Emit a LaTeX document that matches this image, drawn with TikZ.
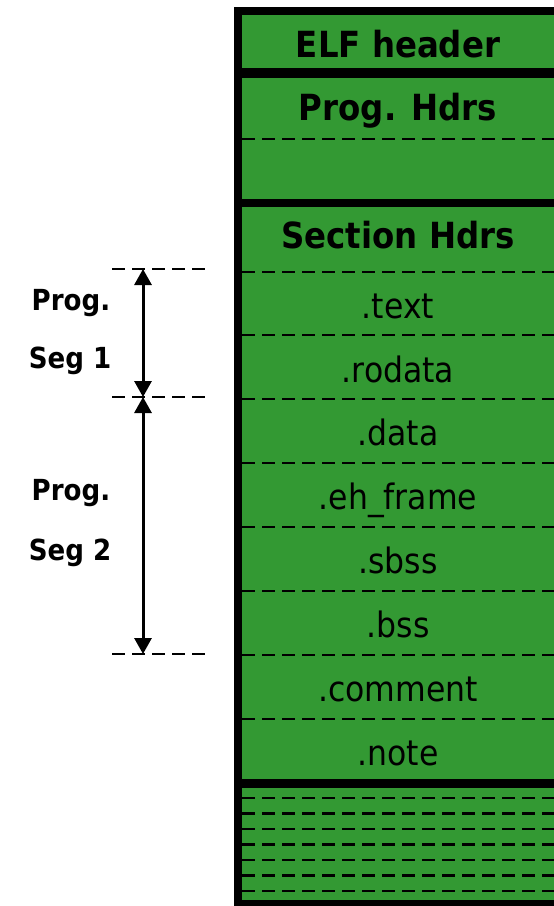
\documentclass[tikz,border=0pt]{standalone}
\usepackage{fontspec}
\setmainfont{DejaVu Sans}[FakeStretch=0.9]
\usetikzlibrary{arrows.meta}
\definecolor{vertelf}{RGB}{51,153,51}

\begin{document}
\begin{tikzpicture}[x=1pt,y=-1pt]
 % style des noeuds
  \tikzstyle{titre}=[font=\fontsize{36}{36}\selectfont\bfseries,anchor=base,inner sep=0pt]
  \tikzstyle{section}=[font=\fontsize{35}{35}\selectfont,anchor=base,inner sep=0pt]
  \tikzstyle{segment}=[font=\fontsize{29}{29}\selectfont\bfseries,anchor=base,inner sep=0pt]
 % style des traits
  \tikzstyle{bord}=[line width=8pt]
  \tikzstyle{pointille}=[line width=2.2pt,dash pattern=on 13pt off 7pt]
  \tikzstyle{fleche}=[{Triangle[width=17pt,length=16pt]}-{Triangle[width=17pt,length=16pt]},line width=3pt]
  \useasboundingbox (0,0) rectangle (554,906);
  \clip (0,0) rectangle (554,906);
 % fond du fichier
  \fill[vertelf] (238,10) rectangle (560,906);
 % separations des sections
  \draw[pointille] (242,139) -- (560,139);
  \foreach \y in {272,335,399,463,527,591,655,719}
    \draw[pointille] (242,\y) -- (560,\y);
  \foreach \y in {798,813.5,829,844.5,860,875.5,891}
    \draw[pointille] (242,\y) -- (560,\y);
 % bords epais
  \draw[bord,line width=9.5pt] (238,73) -- (560,73);
  \draw[bord] (238,202.5) -- (560,202.5);
  \draw[bord,line width=9pt] (238,783.5) -- (560,783.5);
  \draw[bord] (234,10.5) -- (560,10.5);
  \draw[bord] (238,7) -- (238,910);
  \draw[bord] (234,904) -- (560,904);
 % placement des noeuds
  \node[titre] (elf) at (398,57) {ELF header};
  \node[titre] (proghdrs) at (398,120) {Prog. Hdrs};
  \node[titre] (secthdrs) at (398,248) {Section Hdrs};
  \node[section] (text) at (398,318.5) {.text};
  \node[section] (rodata) at (398,382) {.rodata};
  \node[section] (data) at (398,445.5) {.data};
  \node[section] (ehframe) at (398,509.5) {.eh\_frame};
  \node[section] (sbss) at (398,573.5) {.sbss};
  \node[section] (bss) at (398,637.5) {.bss};
  \node[section] (comment) at (398,701.5) {.comment};
  \node[section] (note) at (398,765.5) {.note};
  \node[segment] (prog1) at (71,310) {Prog.};
  \node[segment] (seg1) at (70,368) {Seg 1};
  \node[segment] (prog2) at (71,500) {Prog.};
  \node[segment] (seg2) at (70,560) {Seg 2};
 % segments du programme
  \coordinate (s1haut) at (143,269);
  \coordinate (s1bas) at (143,397);
  \coordinate (s2bas) at (143,654);
  \draw[pointille] ([xshift=-31pt]s1haut) -- ++(96,0);
  \draw[pointille] ([xshift=-31pt]s1bas) -- ++(96,0);
  \draw[pointille] ([xshift=-31pt]s2bas) -- ++(96,0);
  \draw[fleche] (s1haut) -- (s1bas);
  \draw[fleche] (s1bas) -- (s2bas);
\end{tikzpicture}
\end{document}
